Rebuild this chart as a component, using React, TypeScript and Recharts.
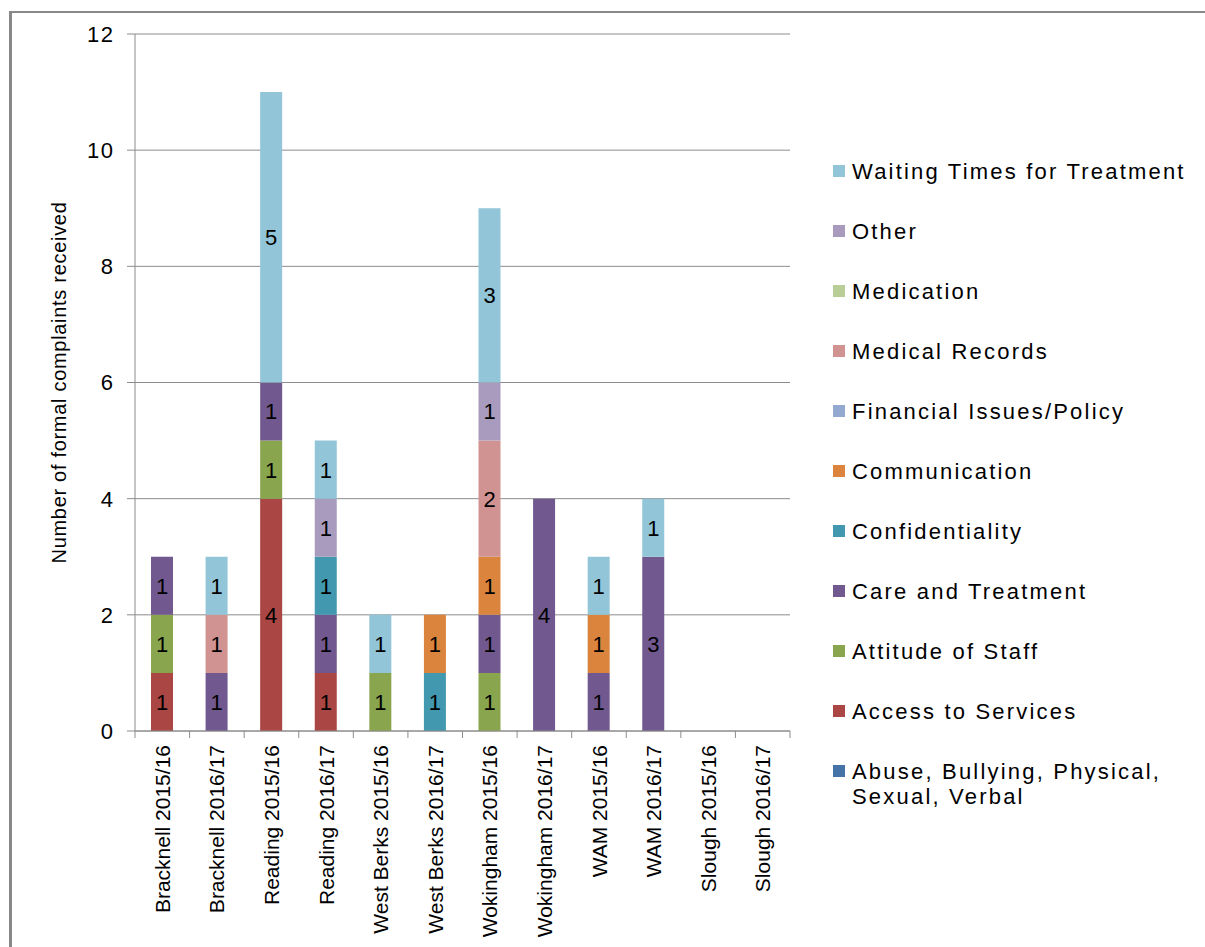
import React from 'react';
import { BarChart, Bar, XAxis, YAxis, CartesianGrid, LabelList, Legend } from 'recharts';

const categories = [
  'Bracknell 2015/16', 'Bracknell 2016/17', 'Reading 2015/16', 'Reading 2016/17',
  'West Berks 2015/16', 'West Berks 2016/17', 'Wokingham 2015/16', 'Wokingham 2016/17',
  'WAM 2015/16', 'WAM 2016/17', 'Slough 2015/16', 'Slough 2016/17',
];

const abuse = [0, 0, 0, 0, 0, 0, 0, 0, 0, 0, 0, 0];
const access = [1, 0, 4, 1, 0, 0, 0, 0, 0, 0, 0, 0];
const attitude = [1, 0, 1, 0, 1, 0, 1, 0, 0, 0, 0, 0];
const care = [1, 1, 1, 1, 0, 0, 1, 4, 1, 3, 0, 0];
const confidentiality = [0, 0, 0, 1, 0, 1, 0, 0, 0, 0, 0, 0];
const communication = [0, 0, 0, 0, 0, 1, 1, 0, 1, 0, 0, 0];
const financial = [0, 0, 0, 0, 0, 0, 0, 0, 0, 0, 0, 0];
const medicalRecords = [0, 1, 0, 0, 0, 0, 2, 0, 0, 0, 0, 0];
const medication = [0, 0, 0, 0, 0, 0, 0, 0, 0, 0, 0, 0];
const other = [0, 0, 0, 1, 0, 0, 1, 0, 0, 0, 0, 0];
const waiting = [0, 1, 5, 1, 1, 0, 3, 0, 1, 1, 0, 0];

const seriesNames = [
  'Abuse, Bullying, Physical, Sexual, Verbal',
  'Access to Services',
  'Attitude of Staff',
  'Care and Treatment',
  'Confidentiality',
  'Communication',
  'Financial Issues/Policy',
  'Medical Records',
  'Medication',
  'Other',
  'Waiting Times for Treatment',
];
const seriesColors = [
  '#4572A7', '#AA4643', '#89A54E', '#71588F', '#4198AF', '#DB843D',
  '#93A9CF', '#D19392', '#B9CD96', '#A99BBD', '#92C5D7',
];
const seriesValues = [
  abuse, access, attitude, care, confidentiality, communication,
  financial, medicalRecords, medication, other, waiting,
];

const yTicks = [0, 2, 4, 6, 8, 10, 12];
const yLabel = 'Number of formal complaints received';

const data = categories.map((name, i) => {
  const row: Record<string, any> = { name };
  seriesValues.forEach((vals, s) => {
    row['s' + s] = vals[i];
  });
  return row;
});

const FONT = '"Liberation Sans", Arial, sans-serif';
const AXIS = '#8c8c8c';

const XTick = (props: any) => {
  const { x, y, payload, index } = props;
  const half = payload && payload.offset ? payload.offset : 27;
  return (
    <g>
      <line x1={x - half} x2={x - half} y1={y} y2={y + 7} stroke={AXIS} strokeWidth={1} />
      {index === categories.length - 1 && (
        <line x1={x + half} x2={x + half} y1={y} y2={y + 7} stroke={AXIS} strokeWidth={1} />
      )}
      <text
        x={x}
        y={y + 14}
        dy="0.36em"
        textAnchor="end"
        transform={`rotate(-90, ${x}, ${y + 14})`}
        fontFamily={FONT}
        fontSize={21}
        fill="#000"
      >
        {payload.value}
      </text>
    </g>
  );
};

const YTick = (props: any) => {
  const { x, y, payload } = props;
  return (
    <text
      x={x + 1.5}
      y={y}
      dy="0.36em"
      textAnchor="end"
      fontFamily={FONT}
      fontSize={22}
      letterSpacing={1.5}
      fill="#000"
    >
      {payload.value}
    </text>
  );
};

const YLabel = (props: any) => {
  const vb = props.viewBox || {};
  const cy = vb.y + vb.height / 2;
  const cx = 66;
  return (
    <text
      x={cx}
      y={cy}
      textAnchor="middle"
      transform={`rotate(-90, ${cx}, ${cy})`}
      fontFamily={FONT}
      fontSize={20}
      letterSpacing={0.7}
      fill="#000"
    >
      {yLabel}
    </text>
  );
};

const SegLabel = (props: any) => {
  const { x, y, width, height, value } = props;
  if (!value) return null;
  return (
    <text
      x={x + width / 2}
      y={y + height / 2}
      dy="0.36em"
      textAnchor="middle"
      fontFamily={FONT}
      fontSize={22}
      fill="#000"
    >
      {value}
    </text>
  );
};

const LegendContent = () => {
  const items = seriesNames.map((name, s) => ({ name, color: seriesColors[s] })).reverse();
  return (
    <div style={{ fontFamily: FONT, fontSize: 22, color: '#000' }}>
      {items.map((it) => (
        <div
          key={it.name}
          style={{
            display: 'flex',
            alignItems: 'flex-start',
            height: 60,
            paddingTop: 17.5,
            boxSizing: 'border-box',
          }}
        >
          <div
            style={{
              width: 12,
              height: 12,
              marginTop: 6.5,
              marginRight: 7,
              background: it.color,
              flex: 'none',
            }}
          />
          <div style={{ lineHeight: '25px', letterSpacing: 2.2, width: 350, whiteSpace: 'normal' }}>
            {it.name}
          </div>
        </div>
      ))}
    </div>
  );
};

export default function App() {
  return (
    <div
      style={{
        position: 'absolute',
        left: 0,
        top: 0,
        width: 1205,
        height: 947,
        background: '#fff',
        overflow: 'hidden',
      }}
    >
      <div
        style={{
          position: 'absolute',
          left: 9,
          top: 11,
          right: -5,
          bottom: -5,
          borderTop: '2px solid #888',
          borderLeft: '3px solid #888',
        }}
      />
      <div style={{ position: 'absolute', left: 0, top: 0 }}>
        <BarChart
          width={1205}
          height={947}
          data={data}
          margin={{ top: 34, right: 415, bottom: 0, left: 0 }}
          barSize={22}
        >
          <CartesianGrid vertical={false} stroke={AXIS} strokeWidth={1} />
          <XAxis
            dataKey="name"
            interval={0}
            height={216}
            tickSize={0}
            tickMargin={0}
            tickLine={false}
            axisLine={{ stroke: AXIS }}
            tick={<XTick />}
          />
          <YAxis
            width={135}
            domain={[0, 12]}
            ticks={yTicks}
            interval={0}
            tickSize={8}
            tickMargin={14}
            tickLine={{ stroke: AXIS }}
            axisLine={{ stroke: AXIS }}
            tick={<YTick />}
            label={<YLabel />}
          />
          <Legend
            layout="vertical"
            align="center"
            verticalAlign="middle"
            wrapperStyle={{ left: 833, top: 141, width: 372 }}
            content={<LegendContent />}
          />
          {seriesNames.map((name, s) => (
            <Bar
              key={name}
              dataKey={'s' + s}
              name={name}
              stackId="a"
              fill={seriesColors[s]}
              isAnimationActive={false}
            >
              <LabelList dataKey={'s' + s} content={<SegLabel />} />
            </Bar>
          ))}
        </BarChart>
      </div>
    </div>
  );
}
